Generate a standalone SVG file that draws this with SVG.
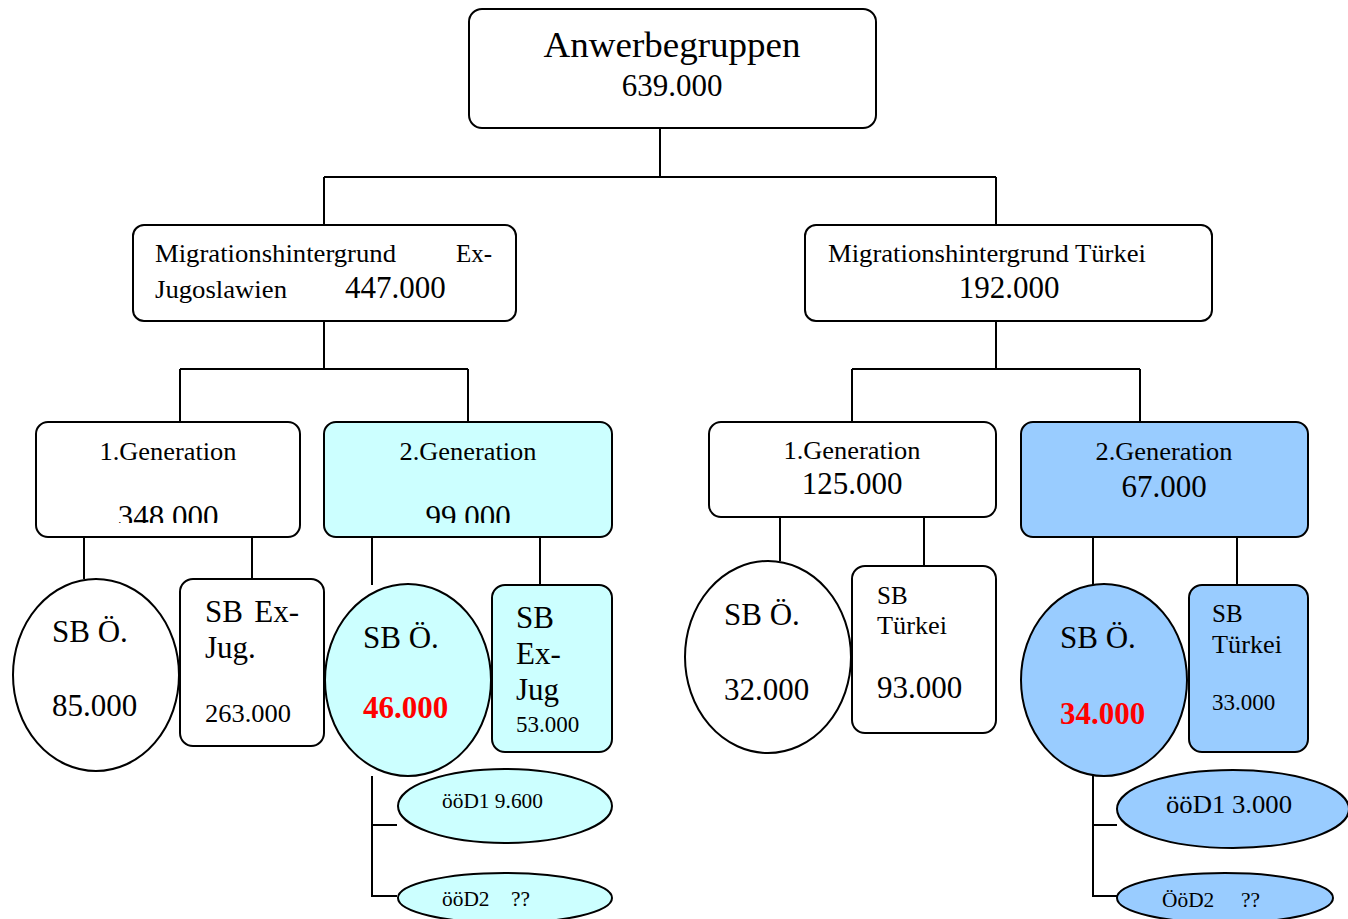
<svg xmlns="http://www.w3.org/2000/svg" width="1348" height="919" viewBox="0 0 1348 919">
  <style>
    text { font-family: "Liberation Serif", "Times New Roman", serif; fill: #000; }
    .box { stroke: #000; stroke-width: 2; fill: #fff; }
    .cyan { fill: #ccffff; }
    .blue { fill: #99ccff; }
    .conn { stroke: #000; stroke-width: 2; fill: none; }
    .s18 { font-size: 20px; }
    .s20 { font-size: 21px; }
    .s23 { font-size: 23px; }
    .s22 { font-size: 25px; }
    .s26 { font-size: 26px; }
    .s28 { font-size: 31px; }
    .s32 { font-size: 36px; }
    .mid { text-anchor: middle; }
    .red { fill: #ff0000; font-weight: bold; }
  </style>
  <defs>
    <clipPath id="clipGenL"><rect x="36" y="422" width="576" height="101"/></clipPath>
  </defs>

  <g id="connectors">
    <path class="conn" d="M660 128V177M324 177H996M324 177V225M996 177V225"/>
    <path class="conn" d="M324 321V369M180 369H468M180 369V422M468 369V422"/>
    <path class="conn" d="M996 321V369M852 369H1140M852 369V422M1140 369V422"/>
    <path class="conn" d="M84 537V579M252 537V579"/>
    <path class="conn" d="M372 537V585M540 537V585"/>
    <path class="conn" d="M780 517V561M924 517V566"/>
    <path class="conn" d="M1093 537V585M1237 537V585"/>
    <path class="conn" d="M372 776V896H397M372 825H397"/>
    <path class="conn" d="M1093 776V896H1117M1093 825H1117"/>
  </g>

  <g id="root">
    <rect class="box" x="469" y="9" width="407" height="119" rx="13"/>
    <text class="s32 mid" x="672" y="57" textLength="257" lengthAdjust="spacingAndGlyphs">Anwerbegruppen</text>
    <text class="s28 mid" x="672" y="96">639.000</text>
  </g>

  <g id="exjug">
    <rect class="box" x="133" y="225" width="383" height="96" rx="11"/>
    <text class="s22" x="155" y="262" textLength="241" lengthAdjust="spacingAndGlyphs">Migrationshintergrund</text>
    <text class="s22" x="492" y="262" text-anchor="end">Ex-</text>
    <text class="s22" x="155" y="298" textLength="132" lengthAdjust="spacingAndGlyphs">Jugoslawien</text>
    <text class="s28" x="345" y="298">447.000</text>
  </g>

  <g id="tuerkei">
    <rect class="box" x="805" y="225" width="407" height="96" rx="11"/>
    <text class="s22" x="828" y="262" textLength="318" lengthAdjust="spacingAndGlyphs">Migrationshintergrund Türkei</text>
    <text class="s28 mid" x="1009" y="298">192.000</text>
  </g>

  <g id="gen1-exjug">
    <rect class="box" x="36" y="422" width="264" height="115" rx="12"/>
    <text class="s22 mid" x="168" y="460" textLength="137" lengthAdjust="spacingAndGlyphs">1.Generation</text>
    <text class="s28 mid" x="168" y="527" clip-path="url(#clipGenL)">348.000</text>
  </g>

  <g id="gen2-exjug">
    <rect class="box cyan" x="324" y="422" width="288" height="115" rx="12"/>
    <text class="s22 mid" x="468" y="460" textLength="137" lengthAdjust="spacingAndGlyphs">2.Generation</text>
    <text class="s28 mid" x="468" y="527" clip-path="url(#clipGenL)">99.000</text>
  </g>

  <g id="sbo-gen1-exjug">
    <ellipse class="box" cx="96" cy="675" rx="83" ry="96"/>
    <text class="s28" x="52" y="642">SB Ö.</text>
    <text class="s28" x="52" y="716">85.000</text>
  </g>

  <g id="sbexjug-gen1">
    <rect class="box" x="180" y="579" width="144" height="167" rx="13"/>
    <text class="s28" x="205" y="622">SB</text>
    <text class="s28" x="299" y="622" text-anchor="end">Ex-</text>
    <text class="s28" x="205" y="658">Jug.</text>
    <text class="s22" x="205" y="722" textLength="86" lengthAdjust="spacingAndGlyphs">263.000</text>
  </g>

  <g id="sbo-gen2-exjug">
    <ellipse class="box cyan" cx="408" cy="680" rx="83" ry="96"/>
    <text class="s28" x="363" y="648">SB Ö.</text>
    <text class="s28 red" x="363" y="718">46.000</text>
  </g>

  <g id="sbexjug-gen2">
    <rect class="box cyan" x="492" y="585" width="120" height="167" rx="13"/>
    <text class="s28" x="516" y="628">SB</text>
    <text class="s28" x="516" y="664">Ex-</text>
    <text class="s28" x="516" y="700">Jug</text>
    <text class="s23" x="516" y="732">53.000</text>
  </g>

  <g id="ood1-exjug">
    <ellipse class="box cyan" cx="505" cy="806" rx="107" ry="37"/>
    <text class="s18" x="442" y="808" textLength="101" lengthAdjust="spacingAndGlyphs">ööD1 9.600</text>
  </g>

  <g id="ood2-exjug">
    <ellipse class="box cyan" cx="505" cy="898" rx="107" ry="25"/>
    <text class="s20" x="442" y="906" xml:space="preserve" textLength="88" lengthAdjust="spacingAndGlyphs">ööD2    ??</text>
  </g>

  <g id="gen1-tuerkei">
    <rect class="box" x="709" y="422" width="287" height="95" rx="12"/>
    <text class="s22 mid" x="852" y="459" textLength="137" lengthAdjust="spacingAndGlyphs">1.Generation</text>
    <text class="s28 mid" x="852" y="494">125.000</text>
  </g>

  <g id="gen2-tuerkei">
    <rect class="box blue" x="1021" y="422" width="287" height="115" rx="12"/>
    <text class="s22 mid" x="1164" y="460" textLength="137" lengthAdjust="spacingAndGlyphs">2.Generation</text>
    <text class="s28 mid" x="1164" y="497">67.000</text>
  </g>

  <g id="sbo-gen1-tuerkei">
    <ellipse class="box" cx="768" cy="657" rx="83" ry="96"/>
    <text class="s28" x="724" y="625">SB Ö.</text>
    <text class="s28" x="724" y="700">32.000</text>
  </g>

  <g id="sbtuerkei-gen1">
    <rect class="box" x="852" y="566" width="144" height="167" rx="13"/>
    <text class="s22" x="877" y="604">SB</text>
    <text class="s22" x="877" y="634" textLength="70" lengthAdjust="spacingAndGlyphs">Türkei</text>
    <text class="s28" x="877" y="698">93.000</text>
  </g>

  <g id="sbo-gen2-tuerkei">
    <ellipse class="box blue" cx="1104" cy="680" rx="83" ry="96"/>
    <text class="s28" x="1060" y="648">SB Ö.</text>
    <text class="s28 red" x="1060" y="724">34.000</text>
  </g>

  <g id="sbtuerkei-gen2">
    <rect class="box blue" x="1189" y="585" width="119" height="167" rx="13"/>
    <text class="s22" x="1212" y="622">SB</text>
    <text class="s22" x="1212" y="653" textLength="70" lengthAdjust="spacingAndGlyphs">Türkei</text>
    <text class="s23" x="1212" y="710">33.000</text>
  </g>

  <g id="ood1-tuerkei">
    <ellipse class="box blue" cx="1233" cy="809" rx="116" ry="39"/>
    <text class="s26" x="1166" y="813" textLength="126" lengthAdjust="spacingAndGlyphs">ööD1 3.000</text>
  </g>

  <g id="ood2-tuerkei">
    <ellipse class="box blue" cx="1225" cy="898" rx="108" ry="25"/>
    <text class="s18" x="1162" y="907" xml:space="preserve" textLength="98" lengthAdjust="spacingAndGlyphs">ÖöD2     ??</text>
  </g>
</svg>
